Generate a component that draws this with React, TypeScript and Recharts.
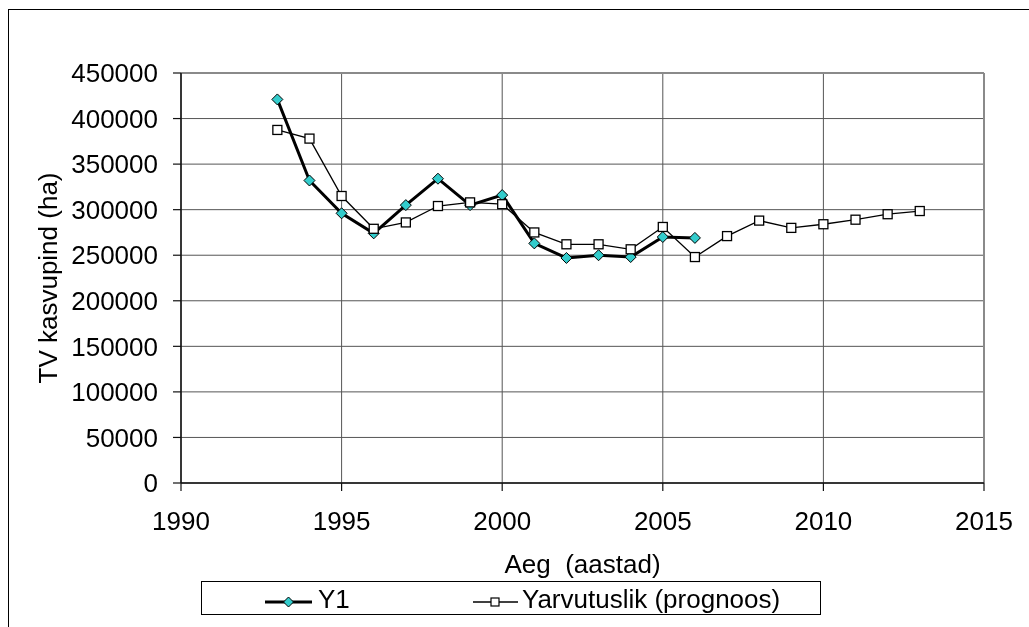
import React from 'react';
import { LineChart, Line, XAxis, YAxis, CartesianGrid, ReferenceLine } from 'recharts';

const years = [
  1993, 1994, 1995, 1996, 1997, 1998, 1999, 2000, 2001, 2002, 2003,
  2004, 2005, 2006, 2007, 2008, 2009, 2010, 2011, 2012, 2013,
];
// measured area, 1993-2006
const y1Values = [
  421000, 332000, 296000, 274000, 305000, 334000, 305000, 316000,
  263000, 247000, 250000, 248000, 270000, 269000,
];
// forecast, 1993-2013
const prognoosValues = [
  387500, 378000, 315000, 279000, 286000, 304000, 308000, 306000,
  275000, 262000, 262000, 256500, 281000, 248000, 271000, 288000,
  280000, 284000, 289000, 295000, 298500,
];
const xTicks = [1990, 1995, 2000, 2005, 2010, 2015];
const yTicks = [0, 50000, 100000, 150000, 200000, 250000, 300000, 350000, 400000, 450000];

const seriesNames = { y1: 'Y1', prognoos: 'Yarvutuslik (prognoos)' };

const data = years.map((year, i) => ({
  year,
  y1: i < y1Values.length ? y1Values[i] : null,
  prognoos: prognoosValues[i],
}));

const FONT = '"Liberation Sans", Arial, sans-serif';

const Diamond = (props: any) => {
  const { cx, cy, value, index } = props;
  if (cx == null || cy == null || value == null) return <g key={`d-${index}`} />;
  const r = 5.5;
  return (
    <path
      key={`d-${index}`}
      d={`M${cx},${cy - r}L${cx + r},${cy}L${cx},${cy + r}L${cx - r},${cy}Z`}
      fill="#33CCCC"
      stroke="#000"
      strokeWidth={1}
    />
  );
};

const Square = (props: any) => {
  const { cx, cy, value, index } = props;
  if (cx == null || cy == null || value == null) return <g key={`s-${index}`} />;
  const s = 9;
  return (
    <rect
      key={`s-${index}`}
      x={cx - s / 2}
      y={cy - s / 2}
      width={s}
      height={s}
      fill="#fff"
      stroke="#000"
      strokeWidth={1.3}
    />
  );
};

function LegendBox() {
  return (
    <div
      style={{
        position: 'fixed',
        left: 201,
        top: 581,
        width: 618,
        height: 32,
        border: '1px solid #000',
        fontFamily: FONT,
        fontSize: 26,
        color: '#000',
      }}
    >
      <svg width={50} height={32} style={{ position: 'absolute', left: 63, top: 0 }}>
        <line x1={0} y1={20} x2={47} y2={20} stroke="#000" strokeWidth={3} />
        <path d="M23.5,15L28.5,20L23.5,25L18.5,20Z" fill="#33CCCC" stroke="#000" strokeWidth={1} />
      </svg>
      <span style={{ position: 'absolute', left: 116, top: 1, lineHeight: '32px' }}>{seriesNames.y1}</span>
      <svg width={50} height={32} style={{ position: 'absolute', left: 271, top: 0 }}>
        <line x1={0} y1={20} x2={45} y2={20} stroke="#000" strokeWidth={1.3} />
        <rect x={18} y={16} width={8} height={8} fill="#fff" stroke="#000" strokeWidth={1.2} />
      </svg>
      <span style={{ position: 'absolute', left: 320, top: 1, lineHeight: '32px' }}>
        {seriesNames.prognoos}
      </span>
    </div>
  );
}

export default function App() {
  const tickStyle = { fill: '#000', fontSize: 26, fontFamily: FONT };
  return (
    <div>
      <div
        style={{
          position: 'fixed',
          left: 8,
          top: 9,
          width: 1100,
          height: 700,
          border: '1px solid #000',
        }}
      />
      <div style={{ position: 'fixed', left: 0, top: 0 }}>
        <LineChart
          width={1029}
          height={627}
          data={data}
          margin={{ top: 73, right: 45, left: 0, bottom: 0 }}
          style={{ fontFamily: FONT }}
        >
          <CartesianGrid stroke="#555" strokeWidth={1} />
          <XAxis
            dataKey="year"
            type="number"
            domain={[1990, 2015]}
            ticks={xTicks}
            interval={0}
            height={144}
            tickSize={8}
            tickMargin={21}
            tick={tickStyle}
            axisLine={{ stroke: '#111', strokeWidth: 1.5 }}
            tickLine={{ stroke: '#111', strokeWidth: 1.2 }}
            label={{
              value: 'Aeg\u00a0 (aastad)',
              position: 'insideTop',
              offset: 72,
              fill: '#000',
              fontSize: 26,
              fontFamily: FONT,
            }}
          />
          <YAxis
            type="number"
            domain={[0, 450000]}
            ticks={yTicks}
            interval={0}
            width={181}
            tickSize={8}
            tickMargin={15}
            tick={tickStyle}
            axisLine={{ stroke: '#111', strokeWidth: 1.5 }}
            tickLine={{ stroke: '#111', strokeWidth: 1.2 }}
            label={{
              value: 'TV kasvupind (ha)',
              angle: -90,
              position: 'insideLeft',
              offset: 48,
              fill: '#000',
              fontSize: 26,
              fontFamily: FONT,
              style: { textAnchor: 'middle' },
            }}
          />
          <ReferenceLine y={450000} stroke="#8a8a8a" strokeWidth={2} ifOverflow="visible" />
          <ReferenceLine x={2015} stroke="#8a8a8a" strokeWidth={2} ifOverflow="visible" />
          <Line
            type="linear"
            dataKey="y1"
            name={seriesNames.y1}
            stroke="#000"
            strokeWidth={3}
            dot={Diamond}
            activeDot={false}
            isAnimationActive={false}
          />
          <Line
            type="linear"
            dataKey="prognoos"
            name={seriesNames.prognoos}
            stroke="#000"
            strokeWidth={1.3}
            dot={Square}
            activeDot={false}
            isAnimationActive={false}
          />
        </LineChart>
      </div>
      <LegendBox />
    </div>
  );
}
